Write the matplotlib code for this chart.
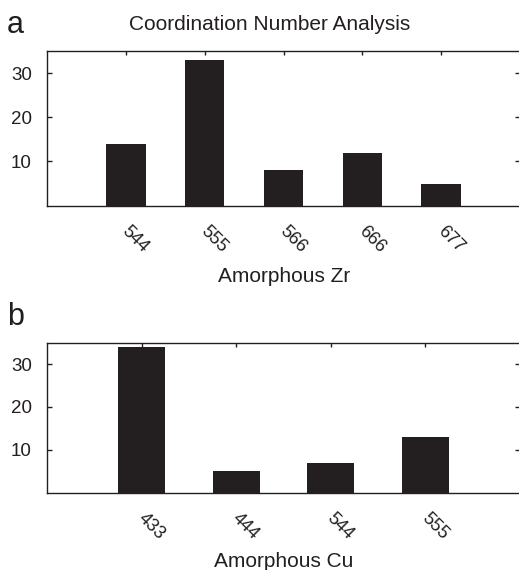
import numpy as np
import matplotlib
matplotlib.use('Agg')
import matplotlib.pyplot as plt
from matplotlib.transforms import ScaledTranslation

# ==========================
# Data
# ==========================

zr_labels = ['544', '555', '566', '666', '677']
zr_counts = [14, 33, 8, 12, 5]

cu_labels = ['433', '444', '544', '555']
cu_counts = [34, 5, 7, 13]

# ==========================
# Styling
# ==========================

ink = '#231f20'
plt.rcParams['font.family'] = ['Liberation Sans', 'DejaVu Sans']
plt.rcParams['text.color'] = ink
plt.rcParams['axes.edgecolor'] = ink
plt.rcParams['xtick.color'] = ink
plt.rcParams['ytick.color'] = ink

W, H = 519, 570
fig = plt.figure(figsize=(W / 100, H / 100), dpi=100)


def px_axes(left, top, right, bottom):
    return fig.add_axes([left / W, 1 - bottom / H,
                         (right - left) / W, (bottom - top) / H])


def draw_panel(ax, labels, counts):
    pos = np.arange(1, len(labels) + 1)
    ax.bar(pos, counts, width=0.5, color=ink, zorder=3)
    ax.set_xlim(0, len(labels) + 1)
    ax.set_ylim(0, 35)
    ax.set_yticks([10, 20, 30])
    ax.set_xticks(pos)
    ax.set_xticklabels(labels, rotation=-45, ha='left',
                       rotation_mode='anchor', fontsize=13)
    ax.tick_params(axis='x', direction='in', top=True, bottom=True,
                   length=3, width=1, pad=11)
    ax.tick_params(axis='y', direction='in', left=True, right=True,
                   length=3.5, width=1, pad=11, labelsize=13.5)
    # nudge rotated labels a little right / down
    shift = ScaledTranslation(0.05, -0.02, fig.dpi_scale_trans)
    for lab in ax.get_xticklabels():
        lab.set_transform(lab.get_transform() + shift)
    for sp in ax.spines.values():
        sp.set_linewidth(1.0)


# Panel a
ax_a = px_axes(47, 51, 520, 205.6)
draw_panel(ax_a, zr_labels, zr_counts)

# Panel b
ax_b = px_axes(47, 342.7, 520, 492.5)
draw_panel(ax_b, cu_labels, cu_counts)

# Texts
fig.text(269.5 / W, 1 - 30 / H, 'Coordination Number Analysis',
         ha='center', va='baseline', fontsize=15)
fig.text(7 / W, 1 - 33 / H, 'a', ha='left', va='baseline', fontsize=22)
fig.text(7 / W, 1 - 325 / H, 'b', ha='left', va='baseline', fontsize=22)
fig.text(284 / W, 1 - 282 / H, 'Amorphous Zr',
         ha='center', va='baseline', fontsize=15)
fig.text(284 / W, 1 - 567 / H, 'Amorphous Cu',
         ha='center', va='baseline', fontsize=15)

fig.savefig('out.png', dpi=100)
